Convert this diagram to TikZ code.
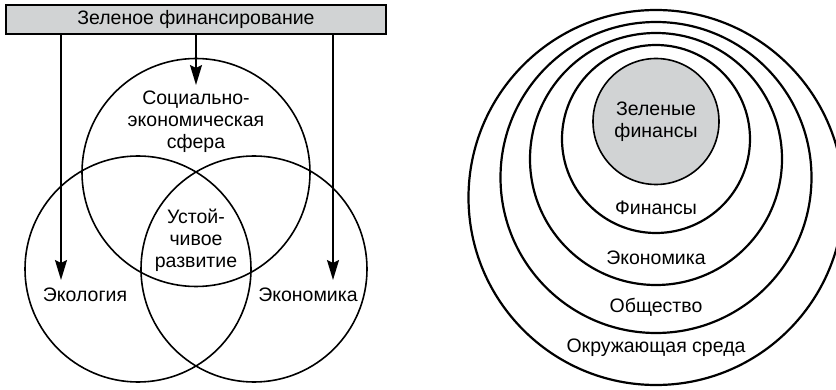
\documentclass[tikz,border=0pt]{standalone}
\usepackage{fontspec}
\setmainfont{Liberation Sans}
\usetikzlibrary{arrows.meta}
\definecolor{panelgray}{RGB}{209,211,212}
\begin{document}
\begin{tikzpicture}[x=1pt,y=-1pt,
  lbl/.style={font=\fontsize{19.5}{22}\selectfont, align=center, inner sep=0pt},
  venn/.style={circle, draw=black, line width=1.6pt, inner sep=0pt, outer sep=0pt},
  ring/.style={circle, draw=black, line width=2.2pt, inner sep=0pt, outer sep=0pt},
  arr/.style={line width=1.8pt, -{Stealth[length=20pt,width=12pt,inset=3pt]}},
]
\useasboundingbox (0,0) rectangle (836,390);

% ---------- left panel: Venn diagram ----------
\node[venn, minimum size=228pt] (soc) at (196,172.5) {};
\node[venn, minimum size=226pt] (eco) at (138,269) {};
\node[venn, minimum size=226pt] (econ) at (254,269) {};

\node[draw=black, line width=1.5pt, fill=panelgray, minimum width=380pt,
      minimum height=29pt, inner sep=0pt, lbl] (box) at (196,19.5) {Зеленое финансирование};

\coordinate (ecoTip) at (61,280);
\coordinate (socTip) at (196,85);
\coordinate (econTip) at (333,280);
\draw[arr] (box.south -| ecoTip) -- (ecoTip);
\draw[arr] (box.south) -- (socTip);
\draw[arr] (box.south -| econTip) -- (econTip);

\node[lbl] (socLbl) at (196,122) {Социально-\\экономическая\\сфера};
\node[lbl] (sdLbl) at (196,240) {Устой-\\чивое\\развитие};
\node[lbl] (ecoLbl) at (85,295) {Экология};
\node[lbl] (econLbl) at (308,295) {Экономика};

% ---------- right panel: nested spheres ----------
\node[ring, minimum size=375pt] (env) at (656,197.5) {};
\node[ring, minimum size=311pt] (soci) at (656,177.5) {};
\node[ring, minimum size=252pt] (econR) at (656,159) {};
\node[ring, minimum size=188pt] (fin) at (656,139) {};
\node[ring, fill=panelgray, line width=1.6pt, minimum size=126pt] (gfin) at (656,121.5) {};

\node[lbl] (gfinLbl) at (656,121.5) {Зеленые\\финансы};
\node[lbl] (finLbl) at (656,208) {Финансы};
\node[lbl] (econRLbl) at (656,258) {Экономика};
\node[lbl] (sociLbl) at (656,307) {Общество};
\node[lbl] (envLbl) at (656,348) {Окружающая среда};
\end{tikzpicture}
\end{document}
